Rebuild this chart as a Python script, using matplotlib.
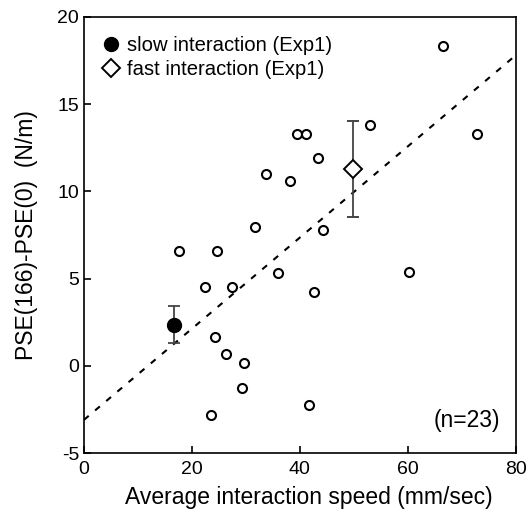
import matplotlib.pyplot as plt

plt.rcParams['font.family'] = ['Liberation Sans', 'DejaVu Sans']
plt.rcParams['axes.unicode_minus'] = False

# individual subjects
speed = [66.5, 72.8, 53.0, 39.4, 41.2, 43.3, 33.7, 38.1, 31.7, 44.2, 17.6, 24.7,
         35.9, 60.2, 22.5, 27.5, 42.6, 24.3, 26.4, 29.6, 29.3, 41.6, 23.5]
pse_diff = [18.3, 13.3, 13.8, 13.3, 13.3, 11.9, 11.0, 10.6, 7.95, 7.8, 6.6, 6.6,
            5.3, 5.4, 4.5, 4.5, 4.2, 1.65, 0.7, 0.13, -1.25, -2.25, -2.8]

# group means (Exp1)
slow_x, slow_y, slow_err = 16.7, 2.35, [[1.05], [1.05]]
fast_x, fast_y, fast_err = 49.9, 11.3, [[2.8], [2.7]]

# regression line
fit_x = [0, 80]
fit_y = [-3.1, 17.8]

fig = plt.figure(figsize=(5.28, 5.09), dpi=100)
ax = fig.add_axes([0.159, 0.110, 0.818, 0.857])

ax.plot(fit_x, fit_y, color='black', ls=(0, (3, 4)), lw=1.5, zorder=1)
ax.plot(speed, pse_diff, 'o', ms=6.5, mfc='white', mec='black', mew=1.5, ls='none', zorder=3)

ax.errorbar(slow_x, slow_y, yerr=slow_err, fmt='o', ms=10, mfc='black', mec='black',
            ecolor='#444444', elinewidth=1.3, capsize=4, capthick=1.3, zorder=4,
            label='slow interaction (Exp1)')
ax.errorbar(fast_x, fast_y, yerr=fast_err, fmt='D', ms=9, mfc='white', mec='black', mew=1.4,
            ecolor='#444444', elinewidth=1.3, capsize=4, capthick=1.3, zorder=4,
            label='fast interaction (Exp1)')

ax.set_xlim(0, 80)
ax.set_ylim(-5, 20)
ax.set_xticks([0, 20, 40, 60, 80])
ax.set_yticks([-5, 0, 5, 10, 15, 20])
ax.tick_params(direction='in', length=5, width=1.2, labelsize=14, colors='black')
ax.tick_params(axis='x', pad=6)
for s in ax.spines.values():
    s.set_linewidth(1.2)

ax.set_xlabel('Average interaction speed (mm/sec)', fontsize=16.5, labelpad=2)
ax.xaxis.set_label_coords(0.521, -0.075)
ax.set_ylabel('PSE(166)-PSE(0)  (N/m)', fontsize=16.5, labelpad=14)

handles, labels = ax.get_legend_handles_labels()
handles = [h[0] for h in handles]
ax.legend(handles, labels, loc='upper left', frameon=False, fontsize=14.6, numpoints=1,
          handlelength=0.8, handletextpad=0.35, borderaxespad=0.55, labelspacing=0.25)

ax.text(0.963, 0.075, '(n=23)', transform=ax.transAxes, ha='right', va='center', fontsize=16.5)

fig.savefig('out.png', dpi=100)
